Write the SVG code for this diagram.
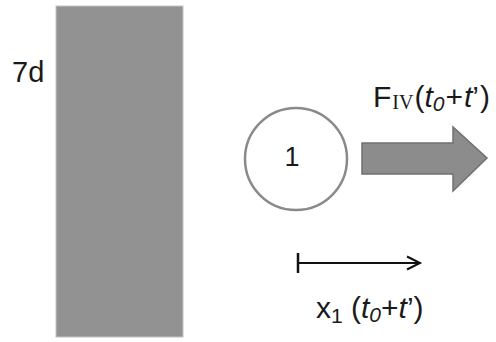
<svg xmlns="http://www.w3.org/2000/svg" width="496" height="342" viewBox="0 0 496 342">
<style>
.lbl{font-family:"Liberation Sans",Arial,sans-serif;fill:#1a1a1a}
.it{font-style:italic}
.rom{font-family:"Liberation Serif","Times New Roman",serif}
</style>
<rect width="496" height="342" fill="#ffffff"/>
<g id="wall">
<rect x="56" y="6" width="127" height="331" fill="#929292" stroke="#c4c4c4" stroke-width="1"/>
<text class="lbl" x="12" y="82" font-size="29">7d</text>
</g>
<g id="node1">
<circle cx="296" cy="159" r="51" fill="#ffffff" stroke="#8a8a8a" stroke-width="2.5"/>
<text class="lbl" x="292" y="166" font-size="27" text-anchor="middle">1</text>
</g>
<g id="force">
<polygon points="362,143 453,143 453,127 487,158 453,191 453,174 362,174" fill="#8c8c8c" stroke="#707070" stroke-width="1.5" stroke-linejoin="miter"/>
<text class="lbl" x="373" y="107" font-size="30">F<tspan class="rom" font-size="20" dx="1" dy="2">IV</tspan><tspan dx="1" dy="-2">(</tspan><tspan class="it">t</tspan><tspan class="it" font-size="21" dy="4">0</tspan><tspan dx="1" dy="-4">+</tspan><tspan class="it" dx="1">t</tspan>’<tspan dx="1">)</tspan></text>
</g>
<g id="connectors">
<line x1="298" y1="253" x2="298" y2="273" stroke="#111" stroke-width="2.5"/>
<line x1="298" y1="263" x2="419" y2="263" stroke="#111" stroke-width="2"/>
<polyline points="407,256.5 420,263 407,269.5" fill="none" stroke="#111" stroke-width="2"/>
</g>
<g id="displacement">
<text class="lbl" x="316" y="318" font-size="30">x<tspan font-size="21" dy="5">1</tspan><tspan dy="-5"> (</tspan><tspan class="it">t</tspan><tspan class="it" font-size="21" dy="4">0</tspan><tspan dy="-4">+</tspan><tspan class="it">t</tspan>’)</text>
</g>
</svg>
